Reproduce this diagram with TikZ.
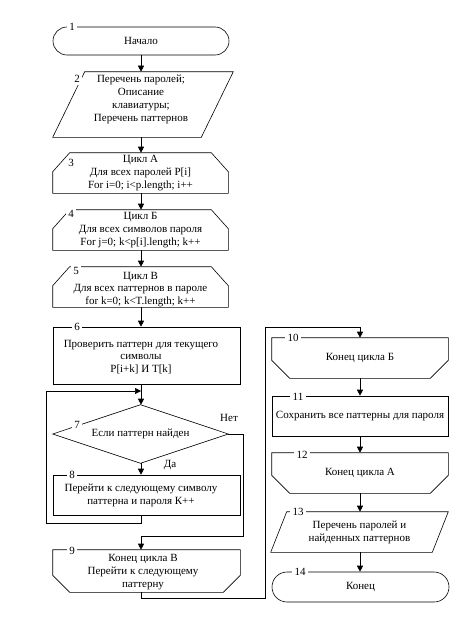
\documentclass[tikz,border=0pt]{standalone}
\usepackage{fontspec}
\setmainfont{Liberation Serif}
\usetikzlibrary{arrows.meta,calc,shapes.misc}
\begin{document}
\begin{tikzpicture}[x=1pt,y=-1pt,line width=0.6pt,
  every node/.style={font=\fontsize{11}{12.8}\selectfont},
  blk/.style={inner sep=0pt, align=center},
  txt/.style={inner sep=0pt, align=center},
  term/.style={draw, rounded rectangle, inner sep=0pt, align=center},
  num/.style={fill=white, inner sep=2.5pt},
  arr/.style={-{Triangle[length=6pt,width=6pt]}}]
\useasboundingbox (0,0) rectangle (466,626);

% ---------- left column ----------
\node[term, minimum width=176pt, minimum height=28pt] (n1) at (141,41) {Начало};

\node[blk, minimum width=180pt, minimum height=65pt] (n2) at (143,104.5) {};
\draw ($(n2.north west)+(32,0)$) -- (n2.north east) -- ($(n2.south east)+(-32,0)$) -- (n2.south west) -- cycle;
\node[txt] at (141,99.5) {Перечень паролей;\\Описание\\клавиатуры;\\Перечень паттернов};

\node[blk, minimum width=175pt, minimum height=40pt] (n3) at (140.5,173) {Цикл А\\Для всех паролей P[i]\\For i=0; i<p.length; i++};
\draw (n3.south west) -- ($(n3.north west)+(0,19)$) -- ($(n3.north west)+(17,0)$) -- ($(n3.north east)+(-17,0)$) -- ($(n3.north east)+(0,19)$) -- (n3.south east) -- cycle;

\node[blk, minimum width=175pt, minimum height=40pt] (n4) at (140.5,230) {Цикл Б\\Для всех символов пароля\\For j=0; k<p[i].length; k++};
\draw (n4.south west) -- ($(n4.north west)+(0,19)$) -- ($(n4.north west)+(17,0)$) -- ($(n4.north east)+(-17,0)$) -- ($(n4.north east)+(0,19)$) -- (n4.south east) -- cycle;

\node[blk, minimum width=175pt, minimum height=40pt] (n5) at (140.5,287) {};
\draw (n5.south west) -- ($(n5.north west)+(0,19)$) -- ($(n5.north west)+(17,0)$) -- ($(n5.north east)+(-17,0)$) -- ($(n5.north east)+(0,19)$) -- (n5.south east) -- cycle;
\node[txt] at (140.5,289.5) {Цикл В\\Для всех паттернов в пароле\\for k=0; k<T.length; k++};

\node[blk, draw, minimum width=187pt, minimum height=57pt] (n6) at (146.5,355.5) {};
\node[txt] at (141,357) {Проверить паттерн для текущего\\символы\\P[i+k] И T[k]};

\node[blk, minimum width=175pt, minimum height=58pt] (n7) at (140.5,434) {Если паттерн найден};
\draw (n7.north) -- (n7.east) -- (n7.south) -- (n7.west) -- cycle;

\node[blk, draw, minimum width=187pt, minimum height=40pt] (n8) at (146.5,495) {};
\node[txt] at (141,495) {Перейти к следующему символу\\паттерна и пароля К++};

\node[blk, minimum width=187pt, minimum height=42pt] (n9) at (146.5,571) {};
\draw (n9.north west) -- (n9.north east) -- ($(n9.south east)+(0,-17)$) -- ($(n9.south east)+(-17,0)$) -- ($(n9.south west)+(17,0)$) -- ($(n9.south west)+(0,-17)$) -- cycle;
\node[txt] at (143,572) {Конец цикла В\\Перейти к следующему\\паттерну};

% ---------- right column ----------
\node[blk, minimum width=176pt, minimum height=40pt] (n10) at (360,358) {Конец цикла Б};
\draw (n10.north west) -- (n10.north east) -- ($(n10.south east)+(0,-18)$) -- ($(n10.south east)+(-18,0)$) -- ($(n10.south west)+(18,0)$) -- ($(n10.south west)+(0,-18)$) -- cycle;

\node[blk, draw, minimum width=176pt, minimum height=40pt] (n11) at (360,416) {Сохранить все паттерны для пароля};

\node[blk, minimum width=176pt, minimum height=40pt] (n12) at (360,473) {Конец цикла А};
\draw (n12.north west) -- (n12.north east) -- ($(n12.south east)+(0,-18)$) -- ($(n12.south east)+(-18,0)$) -- ($(n12.south west)+(18,0)$) -- ($(n12.south west)+(0,-18)$) -- cycle;

\node[blk, minimum width=177pt, minimum height=40pt] (n13) at (359.5,532) {Перечень паролей и\\найденных паттернов};
\draw ($(n13.north west)+(16,0)$) -- (n13.north east) -- ($(n13.south east)+(-16,0)$) -- (n13.south west) -- cycle;

\node[term, minimum width=177pt, minimum height=30pt] (n14) at (360.5,587) {Конец};

% ---------- connectors ----------
\draw[arr] (n1.south) -- (n1.south |- n2.north);
\draw[arr] (n1.south |- n2.south) -- (n1.south |- n3.north);
\draw[arr] (n1.south |- n3.south) -- (n1.south |- n4.north);
\draw[arr] (n1.south |- n4.south) -- (n1.south |- n5.north);
\draw[arr] (n1.south |- n5.south) -- (n1.south |- n6.north);
\draw[arr] (n1.south |- n6.south) -- (n1.south |- n7.north);
\draw[arr] (n1.south |- n7.south) -- (n1.south |- n8.north);
\coordinate (lb) at (46,391);
\draw[arr] (n1.south |- n8.south) -- ++(0,8) -| (lb) -- (lb -| n1.south);
\draw[arr] (n7.east) -- ++(15,0) |- ($(n1.south |- n9.north)+(0,-13)$) -- (n1.south |- n9.north);
\coordinate (rl) at (265,327);
\draw[arr] (n1.south |- n9.south) -- ++(0,6) -| (rl) -- (rl -| n10.north) -- (n10.north);
\draw[arr] (n10.south) -- (n11.north);
\draw[arr] (n11.south) -- (n12.north);
\draw[arr] (n12.south) -- (n12.south |- n13.north);
\draw[arr] (n12.south |- n13.south) -- (n12.south |- n14.north);

\node[inner sep=0pt] at (229,418) {Нет};
\node[inner sep=0pt] at (170,465) {Да};

% ---------- numbers ----------
\node[num] at (72,27) {1};
\node[num] at (77,79) {2};
\node[num] at (71,163) {3};
\node[num] at (71,214) {4};
\node[num] at (76,271) {5};
\node[num] at (77,327) {6};
\node[num] at (77,425) {7};
\node[num] at (72,475) {8};
\node[num] at (72,551) {9};
\node[num] at (293,338) {10};
\node[num] at (298,397) {11};
\node[num] at (302,455) {12};
\node[num] at (298,512) {13};
\node[num] at (300,572) {14};
\end{tikzpicture}
\end{document}
